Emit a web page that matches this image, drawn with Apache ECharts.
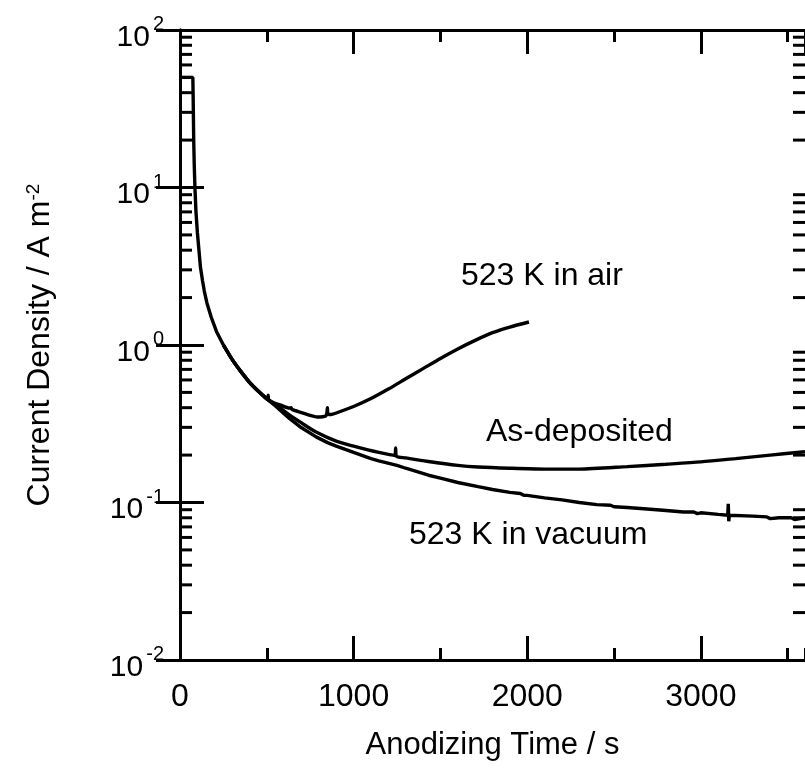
<!DOCTYPE html>
<html>
<head>
<meta charset="utf-8">
<style>
  html, body { margin: 0; padding: 0; background: #fff; }
  #chart { width: 805px; height: 782px; }
</style>
<script src="https://cdn.jsdelivr.net/npm/echarts@6/dist/echarts.min.js"></script>
</head>
<body>
<div id="chart"></div>
<script>
// Anodizing current transients, [time (s), current density (A m^-2)]
// Initial constant-current stage and steep fall, common to all specimens
const initialStage = [
  [0, 50], [74, 50], [76, 36], [79, 20], [82, 14], [86, 10], [92, 7.0], [100, 5.2],
  [110, 3.9], [118, 3.1], [130, 2.55], [140, 2.2], [155, 1.85], [180, 1.5], [210, 1.22],
  [250, 1.0]
];

// Continuation of the transients after 250 s
const commonDecay = [[250, 1.0], [300, 0.81], [350, 0.68], [400, 0.58], [450, 0.51], [500, 0.455]];

const airAnnealed = [
  [540, 0.43], [580, 0.415], [630, 0.398], [640, 0.40], [645, 0.39], [700, 0.372],
  [750, 0.357], [790, 0.349], [820, 0.35], [840, 0.355], [846, 0.37], [849, 0.40],
  [852, 0.365], [870, 0.362], [900, 0.37], [1000, 0.407], [1100, 0.457], [1200, 0.525],
  [1300, 0.61], [1400, 0.708], [1500, 0.822], [1600, 0.944], [1700, 1.07], [1800, 1.197],
  [1900, 1.30], [2010, 1.40]
];

const asDeposited = [
  [505, 0.45], [508, 0.48], [511, 0.448], [550, 0.42], [630, 0.36], [700, 0.32],
  [784, 0.28], [900, 0.245], [1000, 0.228], [1145, 0.208], [1238, 0.199], [1242, 0.222],
  [1246, 0.197], [1300, 0.192], [1431, 0.182], [1600, 0.172], [1717, 0.168], [1900, 0.165],
  [2100, 0.163], [2300, 0.163], [2576, 0.169], [2800, 0.175], [3000, 0.181], [3200, 0.19],
  [3400, 0.2], [3600, 0.21]
];

const vacuumAnnealed = [
  [550, 0.41], [630, 0.342], [700, 0.298], [784, 0.261], [850, 0.24], [900, 0.228],
  [1000, 0.208], [1100, 0.19], [1145, 0.184], [1250, 0.172], [1300, 0.165], [1431, 0.149],
  [1500, 0.143], [1600, 0.134], [1717, 0.126], [1800, 0.121], [1900, 0.116], [1960, 0.114],
  [1980, 0.111], [2000, 0.111], [2100, 0.107], [2200, 0.104], [2300, 0.1], [2400, 0.097],
  [2480, 0.096], [2500, 0.094], [2576, 0.093], [2690, 0.091], [2800, 0.089], [2900, 0.087],
  [2960, 0.087], [2980, 0.085], [3000, 0.086], [3100, 0.084], [3155, 0.083], [3158, 0.098],
  [3161, 0.076], [3164, 0.083], [3300, 0.082], [3380, 0.081], [3400, 0.079], [3450, 0.08],
  [3520, 0.08], [3540, 0.078], [3600, 0.08]
];

const curveLabels = [
  { text: '523 K in air', x: 461, y: 276 },
  { text: 'As-deposited', x: 486, y: 432 },
  { text: '523 K in vacuum', x: 409, y: 535 }
];

// Minor tick positions of the log axis: 2..9 within each decade
const yDecades = [0.01, 0.1, 1, 10];
const yMinorTicks = [];
yDecades.forEach(d => { for (let k = 2; k <= 9; k++) yMinorTicks.push([0, +(d * k).toPrecision(3)]); });

const FONT = 'Liberation Sans, Arial, Helvetica, sans-serif';
const INK = '#000';

function timeAxis(position, interval, tickLen, withLabels) {
  return {
    type: 'value', position, min: 0, max: 3600, interval,
    axisLine: { show: withLabels || position === 'top', lineStyle: { color: INK, width: 3 } },
    axisTick: { show: true, inside: true, length: tickLen, lineStyle: { color: INK, width: 3 } },
    axisLabel: {
      show: withLabels, margin: 21, color: INK, fontSize: 32, fontFamily: FONT,
      showMaxLabel: false,
      formatter: v => (v % 1000 === 0 ? String(v) : '')
    },
    splitLine: { show: false },
    name: withLabels ? 'Anodizing Time / s' : '',
    nameLocation: 'middle', nameGap: 70,
    nameTextStyle: { color: INK, fontSize: 31, fontFamily: FONT }
  };
}

function densityAxis(position, withLabels) {
  return {
    type: 'log', logBase: 10, position, min: 0.01, max: 100,
    axisLine: { show: true, lineStyle: { color: INK, width: 3 } },
    axisTick: { show: true, inside: true, length: 24, lineStyle: { color: INK, width: 3 } },
    axisLabel: {
      show: withLabels, margin: 16, color: INK, fontFamily: FONT,
      formatter: v => '{b|10}{s|' + Math.round(Math.log10(v)) + '}',
      rich: {
        b: { fontSize: 30, fontFamily: FONT, color: INK, lineHeight: 30, padding: [15, 0, 0, 0] },
        s: { fontSize: 20, fontFamily: FONT, color: INK, lineHeight: 31, verticalAlign: 'top', padding: [0, 0, 0, 3] }
      }
    },
    splitLine: { show: false },
    minorTick: { show: false }
  };
}

const chart = echarts.init(document.getElementById('chart'), null, { renderer: 'canvas' });

const lineStyle = { color: INK, width: 3.4 };
const curve = (name, data, smooth) => ({
  name, type: 'line', data, showSymbol: false, symbol: 'none', smooth,
  lineStyle, xAxisIndex: 0, yAxisIndex: 0, z: 3, animation: false
});

chart.setOption({
  animation: false,
  backgroundColor: '#fff',
  grid: { left: 180, top: 30, width: 629, height: 630, containLabel: false },
  xAxis: [
    timeAxis('bottom', 1000, 24, true),
    timeAxis('bottom', 500, 12, false),
    timeAxis('top', 1000, 24, false),
    timeAxis('top', 500, 12, false)
  ],
  yAxis: [densityAxis('left', true), densityAxis('right', false)],
  series: [
    curve('initial', initialStage, false),
    curve('As-deposited', commonDecay.concat(asDeposited), 0.25),
    curve('523 K in air', commonDecay.concat(airAnnealed), 0.25),
    curve('523 K in vacuum', commonDecay.concat(vacuumAnnealed), false),
    {
      name: 'minor ticks', type: 'custom', coordinateSystem: 'cartesian2d',
      xAxisIndex: 0, yAxisIndex: 0, data: yMinorTicks, clip: false, silent: true,
      renderItem: (params, api) => {
        const y = api.coord([0, api.value(1)])[1];
        const cs = params.coordSys;
        const style = { stroke: INK, lineWidth: 3 };
        return {
          type: 'group',
          children: [
            { type: 'line', shape: { x1: cs.x, y1: y, x2: cs.x + 12, y2: y }, style },
            { type: 'line', shape: { x1: cs.x + cs.width, y1: y, x2: cs.x + cs.width - 12, y2: y }, style }
          ]
        };
      }
    }
  ],
  graphic: curveLabels.map(l => ({
    type: 'text', x: l.x, y: l.y,
    style: { text: l.text, fill: INK, font: '32px ' + FONT, align: 'left', verticalAlign: 'middle' }
  })).concat([{
    type: 'text', x: 40, y: 345, rotation: Math.PI / 2,
    style: {
      text: 'Current Density / A m{s|-2}', fill: INK, font: '32px ' + FONT,
      align: 'center', verticalAlign: 'middle',
      rich: {
        s: { font: '19px ' + FONT, fill: INK, verticalAlign: 'top', lineHeight: 20 }
      }
    }
  }])
});
</script>
</body>
</html>
